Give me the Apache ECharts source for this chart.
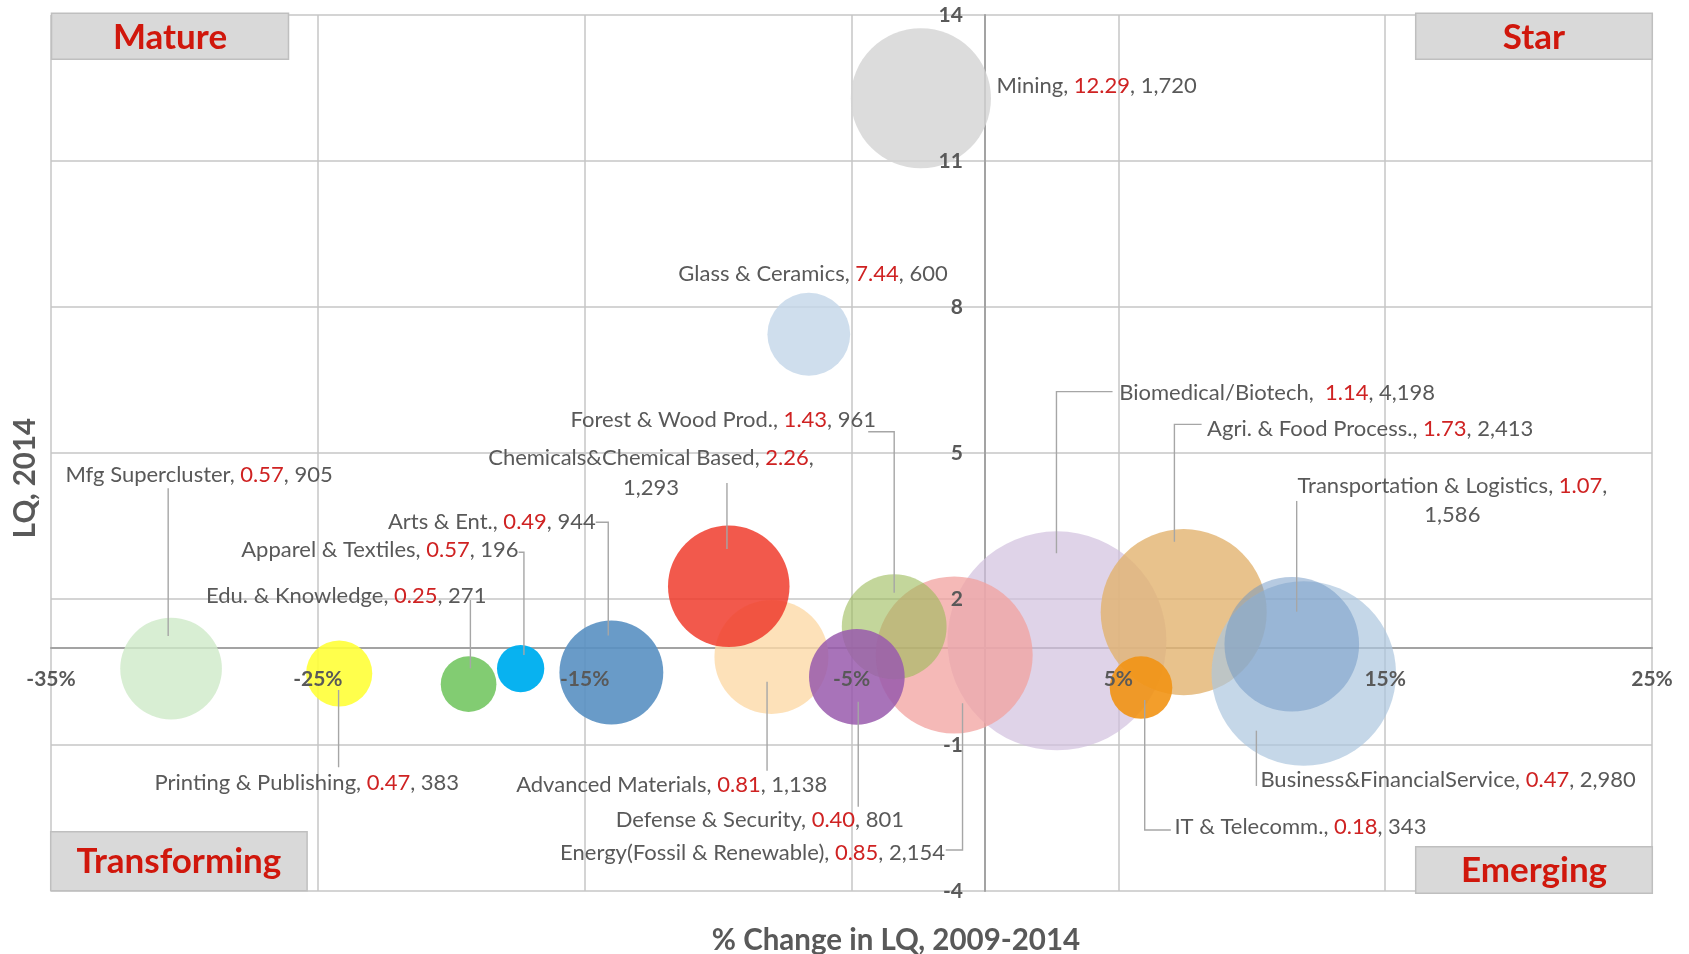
<!DOCTYPE html>
<html><head><meta charset="utf-8">
<script src="https://cdn.jsdelivr.net/npm/echarts@6/dist/echarts.min.js"></script>
<style>html,body{margin:0;padding:0;background:#fff}#c{width:1689px;height:954px}</style>
</head><body><div id="c"></div>
<script>
// ---------- data (drawing order) ----------
const names = ['Mfg Supercluster','Printing & Publishing','Edu. & Knowledge','Apparel & Textiles','Arts & Ent.',
  'Advanced Materials','Chemicals&Chemical Based','Glass & Ceramics','Mining','Biomedical/Biotech',
  'Energy(Fossil & Renewable)','Forest & Wood Prod.','Defense & Security','Agri. & Food Process.',
  'Business&FinancialService','Transportation & Logistics','IT & Telecomm.'];
const pctChange = [-30.5,-24.2,-19.35,-17.4,-14.0,-8.0,-9.6,-6.6,-2.4,2.7,-1.15,-3.4,-4.8,7.45,11.95,11.5,5.85];
const lq = [0.57,0.47,0.25,0.57,0.49,0.81,2.26,7.44,12.29,1.14,0.85,1.43,0.40,1.73,0.47,1.07,0.18];
const employment = [905,383,271,196,944,1138,1293,600,1720,4198,2154,961,801,2413,2980,1586,343];
const xMin = -35, xMax = 25, xStep = 10;
const yMin = -4, yMax = 14, yStep = 3;
const xTickValues = [-35,-25,-15,-5,5,15,25];
const yTickValues = [-4,-1,2,5,8,11,14];
const xCrossAt = 1; // horizontal axis crosses at LQ = 1
const yCrossAt = 0; // vertical axis crosses at 0 %
const quadrants = ['Mature','Star','Transforming','Emerging'];
const xTitle = '% Change in LQ, 2009-2014';
const yTitle = 'LQ, 2014';

// ---------- styles ----------
const colors = ['rgba(206,234,200,0.8)','rgba(255,255,57,0.9)','rgba(116,199,99,0.9)','rgba(0,176,240,0.97)',
  'rgba(89,144,194,0.9)','rgba(252,218,168,0.8)','rgba(240,60,45,0.85)','rgba(195,214,232,0.8)',
  'rgba(211,211,211,0.8)','rgba(210,193,222,0.7)','rgba(242,162,159,0.75)','rgba(155,187,89,0.6)',
  'rgba(153,91,173,0.85)','rgba(226,179,111,0.8)','rgba(172,198,222,0.7)','rgba(110,150,195,0.5)',
  'rgba(242,148,20,0.9)'];
// label placement: offsets (px) from bubble centre
const labelLayout = [
 {align:'center', dx:28, dy:-193.6, leader:[[-2.9,-180.3],[-2.9,-32.6]]},
 {align:'center', dx:-32.4, dy:109.8, leader:[[-0.6,16.5],[-0.6,93.8]]},
 {align:'center', dx:-122.4, dy:-88.2, leader:[[1.8,-84.2],[1.8,-15.9]]},
 {align:'right', dx:-2, dy:-118.6, leader:[[-2,-116.3],[3.3,-116.3],[3.3,-13.6]]},
 {align:'right', dx:-15.6, dy:-150.8, leader:[[-15.6,-150.2],[-3.1,-150.2],[-3.1,-37]]},
 {align:'center', dx:-99.7, dy:128.1, leader:[[-4.4,24.8],[-4.4,113.8]]},
 {align:'center', dx:-77.8, dy:-113.4, wrap:true, leader:[[-1.8,-103.3],[-1.8,-37.3]]},
 {align:'center', dx:4.2, dy:-60.3},
 {align:'left', dx:75.5, dy:-12.2},
 {align:'left', dx:62.3, dy:-247.6, gap:'  ', leader:[[55.6,-249.2],[-0.5,-249.2],[-0.5,-87.6]]},
 {align:'right', dx:-9.2, dy:197.7, leader:[[-8.5,195],[8.3,195],[8.3,48.3]]},
 {align:'right', dx:-18.2, dy:-206.7, leader:[[-26,-195],[0,-195],[0,-34]]},
 {align:'center', dx:-97, dy:143.1, leader:[[1.4,24.8],[1.4,129.8]]},
 {align:'left', dx:23.4, dy:-182.8, leader:[[17.9,-187.8],[-9.3,-187.8],[-9.3,-70.4]]},
 {align:'left', dx:-43.4, dy:106.5, leader:[[-47.4,112.5],[-47.4,57.2]]},
 {align:'center', dx:160.6, dy:-143.9, wrap:true, leader:[[4.9,-143.3],[4.9,-32.6]]},
 {align:'left', dx:33.4, dy:139.1, leader:[[29.8,142.4],[3.7,142.4],[3.7,12.4]]}
];
const FONT = 'Lato, "Open Sans", sans-serif';
const GRAY = '#595959', RED = '#cf2222', QRED = '#d0170c';
const LBL = 22, TICK = 21;

const fmtEmp = v => v.toLocaleString('en-US');
function labelText(i){
  const L = labelLayout[i];
  const nm = names[i].replace(/[{}|]/g,'');
  const r = lq[i].toFixed(2), e = fmtEmp(employment[i]);
  const gap = L.gap || ' ';
  return L.wrap ? `{n|${nm},${gap}}{r|${r}}{n|,}\n{n|${e}}` : `{n|${nm},${gap}}{r|${r}}{n|, ${e}}`;
}
const rich = {
  n:{fill:GRAY, color:GRAY, fontSize:LBL, fontFamily:FONT, lineHeight:29.5},
  r:{fill:RED, color:RED, fontSize:LBL, fontFamily:FONT, lineHeight:29.5}
};

const chart = echarts.init(document.getElementById('c'), null, {renderer:'canvas'});
const gridL = 51, gridR = 37, gridT = 15, gridB = 63;

function qBox(x, y, w, h, text, fs){
  return [
    {type:'rect', z:10, shape:{x, y, width:w, height:h}, style:{fill:'#d9d9d9', stroke:'#bfbfbf', lineWidth:1.5}},
    {type:'text', z:11, x:x+w/2, y:y+h/2+1, style:{text, fill:QRED, fontSize:fs, fontWeight:'bold', fontFamily:FONT, align:'center', verticalAlign:'middle'}}
  ];
}

const lineAxisStyle = {color:'#a3a3a3', width:2};
const splitStyle = {color:'#c6c6c6', width:1.5};

// tick labels placed through the axes' coordinate system, drawn above the bubbles
function tickSeries(values, isX){
  return {type:'custom', xAxisIndex:0, yAxisIndex:0, z:5, silent:true, clip:false,
    encode:{x:0, y:1},
    data: values.map(v => isX ? [v, xCrossAt] : [yCrossAt, v]),
    renderItem:(params, api)=>{
      const c = api.coord([api.value(0), api.value(1)]);
      const v = isX ? api.value(0) : api.value(1);
      return {type:'text', x: isX ? c[0] : c[0]-22, y: isX ? c[1]+32 : c[1],
        style:{text: isX ? v+'%' : String(v), fill:GRAY, fontSize:TICK, fontWeight:'bold', fontFamily:FONT,
               align: isX ? 'center' : 'right', verticalAlign:'middle'}};
    }};
}

chart.setOption({
  animation:false,
  textStyle:{fontFamily:FONT},
  grid:{left:gridL, right:gridR, top:gridT, bottom:gridB, containLabel:false, outerBoundsMode:'none'},
  xAxis:[
    {type:'value', min:xMin, max:xMax, interval:xStep, position:'bottom',
     axisLine:{show:true, onZero:true, onZeroAxisIndex:1, lineStyle:lineAxisStyle},
     axisTick:{show:false}, axisLabel:{show:false}, splitLine:{show:true, lineStyle:splitStyle}}
  ],
  yAxis:[
    {type:'value', min:yMin, max:yMax, interval:yStep, position:'left',
     axisLine:{show:true, onZero:true, onZeroAxisIndex:0, lineStyle:lineAxisStyle},
     axisTick:{show:false}, axisLabel:{show:false}, splitLine:{show:true, lineStyle:splitStyle}},
    // hidden reference axis: its zero sits at LQ = xCrossAt, where the horizontal axis crosses
    {type:'value', min:yMin-xCrossAt, max:yMax-xCrossAt, position:'right', show:false, splitLine:{show:false}}
  ],
  series:[
    {type:'scatter', xAxisIndex:0, yAxisIndex:0, z:2, silent:true,
     symbolSize: v => 3.38*Math.sqrt(v[2]),
     data: names.map((n,i)=>({name:n, value:[pctChange[i], lq[i], employment[i]], itemStyle:{color:colors[i], opacity:1}}))},
    {type:'custom', xAxisIndex:0, yAxisIndex:0, z:4, silent:true, clip:false,
     encode:{x:0, y:1},
     data: names.map((n,i)=>[pctChange[i], lq[i], i]),
     renderItem:(params, api)=>{
       const i = api.value(2);
       const c = api.coord([api.value(0), api.value(1)]);
       const L = labelLayout[i];
       const ch = [];
       if (L.leader) ch.push({type:'polyline', shape:{points:L.leader.map(p=>[c[0]+p[0], c[1]+p[1]])},
           style:{stroke:'#a6a6a6', lineWidth:1.4, fill:null}});
       ch.push({type:'text', x:c[0]+L.dx, y:c[1]+L.dy,
         style:{text:labelText(i), rich, fill:GRAY, fontSize:LBL, fontFamily:FONT, align:L.align, verticalAlign:'middle'}});
       return {type:'group', children:ch};
     }},
    tickSeries(xTickValues, true),
    tickSeries(yTickValues, false)
  ],
  graphic:[
    ...qBox(51.5, 13.3, 237, 46, quadrants[0], 35),
    ...qBox(1415.7, 13.3, 236.6, 46, quadrants[1], 35),
    ...qBox(50.7, 831.7, 256.4, 59, quadrants[2], 35),
    ...qBox(1415.7, 846.7, 236.6, 46.6, quadrants[3], 35),
    {type:'text', z:11, x:25, y:478, rotation:Math.PI/2,
     style:{text:yTitle, fill:GRAY, fontSize:29.5, fontWeight:'bold', fontFamily:FONT, align:'center', verticalAlign:'middle'}},
    {type:'text', z:11, x:896, y:940,
     style:{text:xTitle, fill:GRAY, fontSize:29.5, fontWeight:'bold', fontFamily:FONT, align:'center', verticalAlign:'middle'}}
  ]
});
</script></body></html>
